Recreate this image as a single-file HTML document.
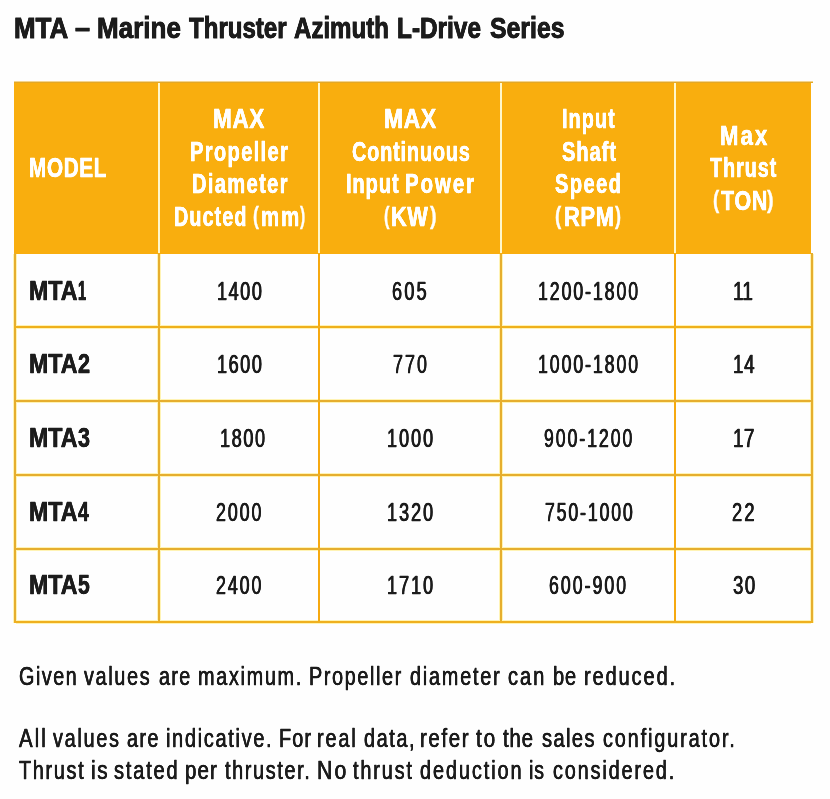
<!DOCTYPE html>
<html lang="en">
<head>
<meta charset="utf-8">
<title>MTA – Marine Thruster Azimuth L-Drive Series</title>
<style>
html,body{margin:0;padding:0;}
body{width:830px;height:799px;position:relative;overflow:hidden;background:#fefefe;font-family:"Liberation Sans",sans-serif;}
.r{position:absolute;}
.t{position:absolute;white-space:pre;line-height:1;transform-origin:0 0;filter:blur(0.5px);}
.title{font-weight:700;color:#1c1c1c;-webkit-text-stroke:0.8px #1c1c1c;text-shadow:0.1px 0 0 #1c1c1c,-0.1px 0 0 #1c1c1c;}
.head{font-weight:700;color:#ffffff;-webkit-text-stroke:0.3px #ffffff;text-shadow:0.15px 0 0 #ffffff,-0.15px 0 0 #ffffff;}
.paren{font-weight:700;color:#ffffff;-webkit-text-stroke:0.45px #ffffff;}
.label{font-weight:700;color:#1c1c1c;-webkit-text-stroke:0.3px #1c1c1c;text-shadow:0.3px 0 0 #1c1c1c,-0.3px 0 0 #1c1c1c;}
.num{font-weight:400;color:#1c1c1c;-webkit-text-stroke:0.3px #1c1c1c;text-shadow:0.5px 0 0 #1c1c1c,-0.5px 0 0 #1c1c1c;}
.foot{font-weight:400;color:#1c1c1c;-webkit-text-stroke:0.35px #1c1c1c;text-shadow:0.2px 0 0 #1c1c1c,-0.2px 0 0 #1c1c1c;}
</style>
</head>
<body>
<div class="r" style="left:16px;top:325px;width:795px;height:4px;background:#FFF3B4;"></div>
<div class="r" style="left:16px;top:399px;width:795px;height:4px;background:#FFF3B4;"></div>
<div class="r" style="left:16px;top:473px;width:795px;height:4px;background:#FFF3B4;"></div>
<div class="r" style="left:16px;top:547px;width:795px;height:4px;background:#FFF3B4;"></div>
<div class="r" style="left:16px;top:620px;width:795px;height:4px;background:#FFF3B4;"></div>
<div class="r" style="left:13px;top:254px;width:4px;height:369px;background:#FFF3B4;"></div>
<div class="r" style="left:810px;top:254px;width:4px;height:369px;background:#FFF3B4;"></div>
<div class="r" style="left:157px;top:254px;width:4px;height:368px;background:#FFF3B4;"></div>
<div class="r" style="left:498.5px;top:254px;width:4px;height:368px;background:#FFF3B4;"></div>
<div class="r" style="left:14px;top:81px;width:799px;height:1px;background:#F4D58E;"></div>
<div class="r" style="left:14px;top:82px;width:797px;height:172px;background:#F9AE0E;"></div>
<div class="r" style="left:14px;top:82px;width:799px;height:1px;background:#E2A728;"></div>
<div class="r" style="left:158px;top:83px;width:2px;height:170px;background:#FFF7CC;"></div>
<div class="r" style="left:318px;top:83px;width:2px;height:170px;background:#FFF7CC;"></div>
<div class="r" style="left:499.5px;top:83px;width:2px;height:170px;background:#FFF7CC;"></div>
<div class="r" style="left:674px;top:83px;width:2px;height:170px;background:#FFF7CC;"></div>
<div class="r" style="left:14px;top:253px;width:2px;height:370px;background:#E6AE2E;"></div>
<div class="r" style="left:811px;top:253px;width:2px;height:370px;background:#E6AE2E;"></div>
<div class="r" style="left:158px;top:254px;width:2px;height:368px;background:#E6AE2E;"></div>
<div class="r" style="left:318px;top:254px;width:2px;height:368px;background:#F6A910;"></div>
<div class="r" style="left:499.5px;top:254px;width:2px;height:368px;background:#E6AE2E;"></div>
<div class="r" style="left:674px;top:254px;width:2px;height:368px;background:#F6A910;"></div>
<div class="r" style="left:14px;top:326px;width:799px;height:2px;background:#EFB01C;"></div>
<div class="r" style="left:14px;top:400px;width:799px;height:2px;background:#E6AE2E;"></div>
<div class="r" style="left:14px;top:474px;width:799px;height:2px;background:#E6AE2E;"></div>
<div class="r" style="left:14px;top:548px;width:799px;height:2px;background:#E6AE2E;"></div>
<div class="r" style="left:14px;top:621px;width:799px;height:2px;background:#EFB020;"></div>
<span class="t title" style="left:14.10px;top:12.61px;font-size:30.00px;transform:scaleX(0.8643);">MTA</span>
<span class="t title" style="left:74.83px;top:12.61px;font-size:30.00px;transform:scaleX(0.9000);">–</span>
<span class="t title" style="left:97.00px;top:12.61px;font-size:30.00px;transform:scaleX(0.8673);">Marine</span>
<span class="t title" style="left:188.60px;top:12.61px;font-size:30.00px;transform:scaleX(0.8023);">Thruster</span>
<span class="t title" style="left:293.90px;top:12.61px;font-size:30.00px;transform:scaleX(0.8020);">Azimuth</span>
<span class="t title" style="left:397.18px;top:12.61px;font-size:30.00px;transform:scaleX(0.8124);">L-Drive</span>
<span class="t title" style="left:490.41px;top:12.61px;font-size:30.00px;transform:scaleX(0.8270);">Series</span>
<span class="t head" style="left:28.67px;top:153.99px;font-size:27.18px;transform:scaleX(0.7639);letter-spacing:0.80px;">MODEL</span>
<span class="t head" style="left:212.83px;top:104.99px;font-size:27.18px;transform:scaleX(0.8289);letter-spacing:0.80px;">MAX</span>
<span class="t head" style="left:190.29px;top:137.99px;font-size:27.18px;transform:scaleX(0.7374);letter-spacing:1.87px;">Propeller</span>
<span class="t head" style="left:192.19px;top:169.99px;font-size:27.18px;transform:scaleX(0.7390);letter-spacing:1.84px;">Diameter</span>
<span class="t head" style="left:173.89px;top:202.99px;font-size:27.18px;transform:scaleX(0.7300);letter-spacing:1.43px;">Ducted</span>
<span class="t paren" style="left:253.48px;top:202.66px;font-size:27.18px;transform:scale(0.6499,0.91);">(</span>
<span class="t head" style="left:260.69px;top:202.99px;font-size:27.18px;transform:scaleX(0.7525);letter-spacing:2.50px;">mm</span>
<span class="t paren" style="left:299.73px;top:202.66px;font-size:27.18px;transform:scale(0.5799,0.91);">)</span>
<span class="t head" style="left:383.52px;top:104.99px;font-size:27.18px;transform:scaleX(0.8413);letter-spacing:0.80px;">MAX</span>
<span class="t head" style="left:351.54px;top:137.99px;font-size:27.18px;transform:scaleX(0.7300);letter-spacing:1.17px;">Continuous</span>
<span class="t head" style="left:345.59px;top:169.99px;font-size:27.18px;transform:scaleX(0.7393);letter-spacing:1.19px;">Input</span>
<span class="t head" style="left:404.58px;top:169.99px;font-size:27.18px;transform:scaleX(0.7542);letter-spacing:2.50px;">Power</span>
<span class="t paren" style="left:384.31px;top:202.66px;font-size:27.18px;transform:scale(0.6036,0.91);">(</span>
<span class="t head" style="left:390.65px;top:202.99px;font-size:27.18px;transform:scaleX(0.8014);letter-spacing:0.80px;">KW</span>
<span class="t paren" style="left:430.04px;top:202.66px;font-size:27.18px;transform:scale(0.7243,0.91);">)</span>
<span class="t head" style="left:561.79px;top:104.99px;font-size:27.18px;transform:scaleX(0.7300);letter-spacing:1.46px;">Input</span>
<span class="t head" style="left:562.22px;top:137.99px;font-size:27.18px;transform:scaleX(0.7394);letter-spacing:1.27px;">Shaft</span>
<span class="t head" style="left:554.92px;top:169.99px;font-size:27.18px;transform:scaleX(0.7389);letter-spacing:1.92px;">Speed</span>
<span class="t paren" style="left:555.27px;top:202.66px;font-size:27.18px;transform:scale(0.6847,0.91);">(</span>
<span class="t head" style="left:564.14px;top:202.99px;font-size:27.18px;transform:scaleX(0.8055);letter-spacing:0.80px;">RPM</span>
<span class="t paren" style="left:614.65px;top:202.66px;font-size:27.18px;transform:scale(0.6627,0.91);">)</span>
<span class="t head" style="left:720.14px;top:121.99px;font-size:27.18px;transform:scaleX(0.8178);letter-spacing:2.50px;">Max</span>
<span class="t head" style="left:710.42px;top:153.99px;font-size:27.18px;transform:scaleX(0.7300);letter-spacing:1.26px;">Thrust</span>
<span class="t paren" style="left:712.77px;top:186.66px;font-size:27.18px;transform:scale(0.6847,0.91);">(</span>
<span class="t head" style="left:720.74px;top:186.99px;font-size:27.18px;transform:scaleX(0.7921);letter-spacing:0.80px;">TON</span>
<span class="t paren" style="left:766.64px;top:186.66px;font-size:27.18px;transform:scale(0.7243,0.91);">)</span>
<span class="t label" style="left:28.64px;top:276.99px;font-size:27.18px;transform:scaleX(0.8538);">MTA</span>
<span class="t label" style="left:77.90px;top:276.99px;font-size:27.18px;transform:scaleX(0.5369);">1</span>
<span class="t num" style="left:216.56px;top:279.22px;font-size:25.73px;transform:scaleX(0.7029);letter-spacing:2.20px;">1400</span>
<span class="t num" style="left:392.46px;top:279.22px;font-size:25.73px;transform:scaleX(0.7019);letter-spacing:3.20px;">605</span>
<span class="t num" style="left:537.66px;top:279.22px;font-size:25.73px;transform:scaleX(0.6897);letter-spacing:2.77px;">1200-1800</span>
<span class="t num" style="left:733.16px;top:279.22px;font-size:25.73px;transform:scaleX(0.7352);letter-spacing:0.22px;">11</span>
<span class="t label" style="left:28.64px;top:349.99px;font-size:27.18px;transform:scaleX(0.8538);">MTA</span>
<span class="t label" style="left:78.32px;top:349.99px;font-size:27.18px;transform:scaleX(0.7962);">2</span>
<span class="t num" style="left:216.56px;top:352.22px;font-size:25.73px;transform:scaleX(0.7029);letter-spacing:2.20px;">1600</span>
<span class="t num" style="left:392.96px;top:352.22px;font-size:25.73px;transform:scaleX(0.6955);letter-spacing:2.96px;">770</span>
<span class="t num" style="left:537.66px;top:352.22px;font-size:25.73px;transform:scaleX(0.6897);letter-spacing:2.77px;">1000-1800</span>
<span class="t num" style="left:733.16px;top:352.22px;font-size:25.73px;transform:scaleX(0.7235);letter-spacing:1.10px;">14</span>
<span class="t label" style="left:28.64px;top:423.99px;font-size:27.18px;transform:scaleX(0.8538);">MTA</span>
<span class="t label" style="left:78.32px;top:423.99px;font-size:27.18px;transform:scaleX(0.7913);">3</span>
<span class="t num" style="left:219.86px;top:426.22px;font-size:25.73px;transform:scaleX(0.7045);letter-spacing:2.25px;">1800</span>
<span class="t num" style="left:387.16px;top:426.22px;font-size:25.73px;transform:scaleX(0.6999);letter-spacing:2.89px;">1000</span>
<span class="t num" style="left:544.16px;top:426.22px;font-size:25.73px;transform:scaleX(0.6854);letter-spacing:2.88px;">900-1200</span>
<span class="t num" style="left:732.56px;top:426.22px;font-size:25.73px;transform:scaleX(0.7314);letter-spacing:0.66px;">17</span>
<span class="t label" style="left:28.64px;top:497.99px;font-size:27.18px;transform:scaleX(0.8538);">MTA</span>
<span class="t label" style="left:78.32px;top:497.99px;font-size:27.18px;transform:scaleX(0.7107);">4</span>
<span class="t num" style="left:216.46px;top:500.22px;font-size:25.73px;transform:scaleX(0.6923);letter-spacing:2.79px;">2000</span>
<span class="t num" style="left:387.16px;top:500.22px;font-size:25.73px;transform:scaleX(0.6999);letter-spacing:2.89px;">1320</span>
<span class="t num" style="left:544.76px;top:500.22px;font-size:25.73px;transform:scaleX(0.6861);letter-spacing:2.75px;">750-1000</span>
<span class="t num" style="left:731.76px;top:500.22px;font-size:25.73px;transform:scaleX(0.7124);letter-spacing:3.01px;">22</span>
<span class="t label" style="left:28.64px;top:570.99px;font-size:27.18px;transform:scaleX(0.8538);">MTA</span>
<span class="t label" style="left:78.32px;top:570.99px;font-size:27.18px;transform:scaleX(0.7763);">5</span>
<span class="t num" style="left:216.46px;top:573.22px;font-size:25.73px;transform:scaleX(0.6923);letter-spacing:2.79px;">2400</span>
<span class="t num" style="left:387.16px;top:573.22px;font-size:25.73px;transform:scaleX(0.6999);letter-spacing:2.89px;">1710</span>
<span class="t num" style="left:548.66px;top:573.22px;font-size:25.73px;transform:scaleX(0.6872);letter-spacing:2.97px;">600-900</span>
<span class="t num" style="left:733.44px;top:573.22px;font-size:25.73px;transform:scaleX(0.7253);letter-spacing:2.01px;">30</span>
<span class="t foot" style="left:18.52px;top:664.22px;font-size:25.73px;transform:scaleX(0.7700);letter-spacing:1.94px;">Given</span>
<span class="t foot" style="left:84.49px;top:664.22px;font-size:25.73px;transform:scaleX(0.7700);letter-spacing:2.19px;">values</span>
<span class="t foot" style="left:159.22px;top:664.22px;font-size:25.73px;transform:scaleX(0.7700);letter-spacing:1.69px;">are</span>
<span class="t foot" style="left:197.72px;top:664.22px;font-size:25.73px;transform:scaleX(0.7700);letter-spacing:2.23px;">maximum.</span>
<span class="t foot" style="left:309.35px;top:664.22px;font-size:25.73px;transform:scaleX(0.7700);letter-spacing:2.11px;">Propeller</span>
<span class="t foot" style="left:410.42px;top:664.22px;font-size:25.73px;transform:scaleX(0.7700);letter-spacing:2.34px;">diameter</span>
<span class="t foot" style="left:508.31px;top:664.22px;font-size:25.73px;transform:scaleX(0.7780);letter-spacing:2.60px;">can</span>
<span class="t foot" style="left:553.24px;top:664.22px;font-size:25.73px;transform:scaleX(0.7797);letter-spacing:1.00px;">be</span>
<span class="t foot" style="left:584.22px;top:664.22px;font-size:25.73px;transform:scaleX(0.7757);letter-spacing:2.48px;">reduced.</span>
<span class="t foot" style="left:19.40px;top:726.22px;font-size:25.73px;transform:scaleX(0.7922);letter-spacing:2.60px;">All</span>
<span class="t foot" style="left:52.69px;top:726.22px;font-size:25.73px;transform:scaleX(0.7700);letter-spacing:2.27px;">values</span>
<span class="t foot" style="left:126.52px;top:726.22px;font-size:25.73px;transform:scaleX(0.7700);letter-spacing:1.82px;">are</span>
<span class="t foot" style="left:165.82px;top:726.22px;font-size:25.73px;transform:scaleX(0.7758);letter-spacing:2.18px;">indicative.</span>
<span class="t foot" style="left:278.65px;top:726.22px;font-size:25.73px;transform:scaleX(0.7700);letter-spacing:1.51px;">For</span>
<span class="t foot" style="left:316.62px;top:726.22px;font-size:25.73px;transform:scaleX(0.7700);letter-spacing:2.46px;">real</span>
<span class="t foot" style="left:363.92px;top:726.22px;font-size:25.73px;transform:scaleX(0.7700);letter-spacing:2.11px;">data,</span>
<span class="t foot" style="left:419.92px;top:726.22px;font-size:25.73px;transform:scaleX(0.7911);letter-spacing:2.12px;">refer</span>
<span class="t foot" style="left:475.69px;top:726.22px;font-size:25.73px;transform:scaleX(0.8052);letter-spacing:2.39px;">to</span>
<span class="t foot" style="left:502.69px;top:726.22px;font-size:25.73px;transform:scaleX(0.7909);letter-spacing:1.06px;">the</span>
<span class="t foot" style="left:541.79px;top:726.22px;font-size:25.73px;transform:scaleX(0.7837);letter-spacing:1.74px;">sales</span>
<span class="t foot" style="left:602.52px;top:726.22px;font-size:25.73px;transform:scaleX(0.7700);letter-spacing:2.47px;">configurator.</span>
<span class="t foot" style="left:19.39px;top:758.22px;font-size:25.73px;transform:scaleX(0.7700);letter-spacing:2.21px;">Thrust</span>
<span class="t foot" style="left:91.42px;top:758.22px;font-size:25.73px;transform:scaleX(0.8127);letter-spacing:1.89px;">is</span>
<span class="t foot" style="left:113.99px;top:758.22px;font-size:25.73px;transform:scaleX(0.7808);letter-spacing:2.28px;">stated</span>
<span class="t foot" style="left:184.52px;top:758.22px;font-size:25.73px;transform:scaleX(0.7965);letter-spacing:1.39px;">per</span>
<span class="t foot" style="left:224.89px;top:758.22px;font-size:25.73px;transform:scaleX(0.7700);letter-spacing:2.16px;">thruster.</span>
<span class="t foot" style="left:317.36px;top:758.22px;font-size:25.73px;transform:scaleX(0.8254);letter-spacing:2.60px;">No</span>
<span class="t foot" style="left:353.09px;top:758.22px;font-size:25.73px;transform:scaleX(0.7700);letter-spacing:2.44px;">thrust</span>
<span class="t foot" style="left:419.82px;top:758.22px;font-size:25.73px;transform:scaleX(0.7700);letter-spacing:2.55px;">deduction</span>
<span class="t foot" style="left:529.32px;top:758.22px;font-size:25.73px;transform:scaleX(0.7637);letter-spacing:1.00px;">is</span>
<span class="t foot" style="left:552.62px;top:758.22px;font-size:25.73px;transform:scaleX(0.7700);letter-spacing:2.45px;">considered.</span>
</body>
</html>
